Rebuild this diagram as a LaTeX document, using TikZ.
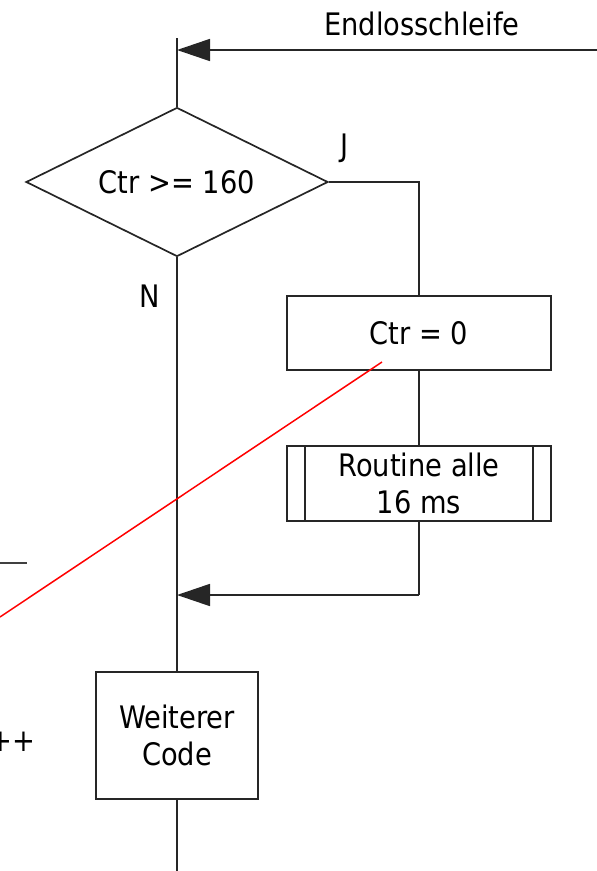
\documentclass[tikz,border=0pt]{standalone}
\usepackage{fontspec}
\setmainfont[FakeStretch=0.88]{DejaVu Sans}
\usetikzlibrary{shapes.geometric,arrows.meta}

\begin{document}
\begin{tikzpicture}[x=1pt, y=-1pt, line width=1.7pt, draw=black!85,
  every node/.style={font=\fontsize{31}{37}\selectfont, text=black},
  box/.style={draw, rectangle, align=center, inner sep=0pt},
  flow/.style={-{Triangle[length=33pt,width=22pt]}}]
\useasboundingbox (0,0) rectangle (597,871);
\clip (0,0) rectangle (597,871);

% Entscheidung und Kaesten
\node[diamond, draw, minimum width=302pt, minimum height=149pt, inner sep=0pt] (cond) at (177,182) {};
\node (condtext) at (cond.center) {Ctr >= 160};
\node[box, minimum width=264pt, minimum height=74pt] (reset) at (419,333) {Ctr = 0};
\node[box, minimum width=264pt, minimum height=75pt] (sub) at (419,483.5) {Routine alle\\16 ms};
\draw ([xshift=19pt]sub.north west) -- ([xshift=19pt]sub.south west);
\draw ([xshift=-19pt]sub.north east) -- ([xshift=-19pt]sub.south east);
\node[box, minimum width=162pt, minimum height=127pt] (more) at (177,735.5) {Weiterer\\Code};

% Beschriftungen
\node (loop) at (422,24) {Endlosschleife};
\node (yes) at (345,148) {J};
\node (no) at (150,296) {N};
\node[anchor=east, inner sep=0pt] (incr) at (36,742) {++};

% Hilfspunkte
\coordinate (top) at (177,38);
\coordinate (loopin) at (597,50);
\coordinate (loopend) at (177,50);
\coordinate (yescorner) at (419,182);
\coordinate (back) at (419,595);
\coordinate (backend) at (177,595);
\coordinate (bottom) at (177,871);

% Verbindungen
\draw (top) -- (cond.north);
\draw[flow] (loopin) -- (loopend);
\draw (cond.east) -- (yescorner) -- (reset.north);
\draw (reset.south) -- (sub.north);
\draw (sub.south) -- (back);
\draw[flow] (back) -- (backend);
\draw (cond.south) -- (more.north);
\draw (more.south) -- (bottom);

% Reste am linken Rand
\coordinate (stub) at (0,563);
\coordinate (stubend) at (27,563);
\draw[black!75] (stub) -- (stubend);
\coordinate (mark) at (382,362);
\coordinate (markend) at (0,617);
\draw[red, line width=1.5pt] (mark) -- (markend);
\end{tikzpicture}
\end{document}
